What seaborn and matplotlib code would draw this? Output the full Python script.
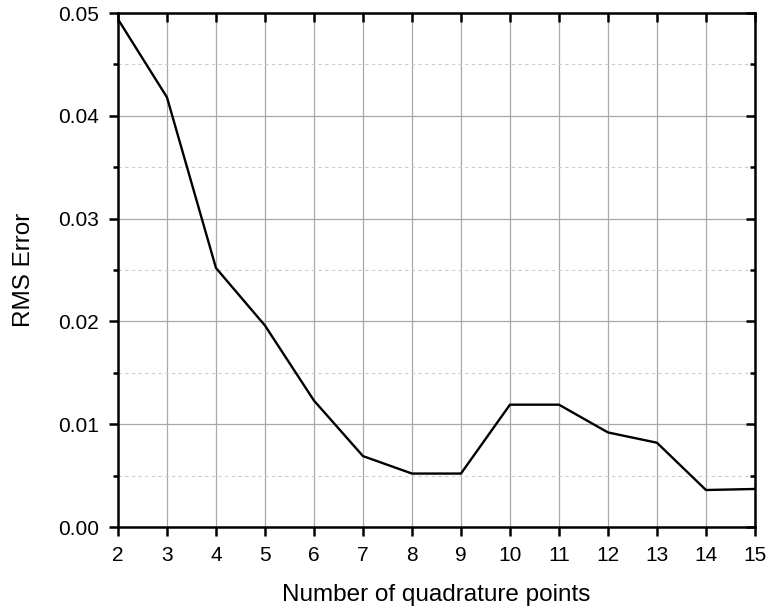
import matplotlib
matplotlib.use("Agg")
import matplotlib.pyplot as plt
import seaborn as sns
import pandas as pd
from matplotlib.ticker import MultipleLocator

points = [2, 3, 4, 5, 6, 7, 8, 9, 10, 11, 12, 13, 14, 15]
rms_error = [0.0494, 0.0418, 0.0252, 0.0196, 0.0123, 0.0069, 0.0052, 0.0052,
             0.0119, 0.0119, 0.0092, 0.0082, 0.0036, 0.0037]
y_ticks = [0.00, 0.01, 0.02, 0.03, 0.04, 0.05]
y_tick_labels = ["0.00", "0.01", "0.02", "0.03", "0.04", "0.05"]

df = pd.DataFrame({"points": points, "rms": rms_error})

sns.set_style("ticks")
plt.rcParams['font.family'] = ['Liberation Sans', 'DejaVu Sans']

fig = plt.figure(figsize=(7.68, 6.08), dpi=100)
rect = [0.1536, 0.1332, 0.8294, 0.8454]

# helper axes for inward mirrored ticks on top and right
axm = fig.add_axes(rect, zorder=5)
axm.patch.set_visible(False)
axm.set_xlim(2, 15)
axm.set_ylim(0, 0.05)
axm.set_xticks(points)
axm.set_yticks(y_ticks)
axm.yaxis.set_minor_locator(MultipleLocator(0.005))
axm.xaxis.tick_top()
axm.yaxis.tick_right()
axm.tick_params(which="major", direction="in", length=6.5, width=1.8, color="black",
                labeltop=False, labelright=False, labelbottom=False, labelleft=False)
axm.tick_params(axis="y", which="minor", direction="in", length=3.5, width=1.8, color="black")
for s in axm.spines.values():
    s.set_visible(False)

ax = fig.add_axes(rect, zorder=1)
sns.lineplot(data=df, x="points", y="rms", ax=ax, color="black", linewidth=1.7, zorder=3)

ax.set_xlim(2, 15)
ax.set_ylim(0, 0.05)
ax.set_xticks(points)
ax.set_yticks(y_ticks)
ax.set_yticklabels(y_tick_labels)
ax.yaxis.set_minor_locator(MultipleLocator(0.005))

ax.grid(which="major", color="#a8a8a8", linewidth=0.9, linestyle="-")
ax.grid(which="minor", axis="y", color="#cccccc", linewidth=0.8, linestyle=(0, (3, 3)))
ax.set_axisbelow(True)

for s in ax.spines.values():
    s.set_visible(True)
    s.set_color("black")
    s.set_linewidth(1.8)

ax.tick_params(axis="both", which="major", direction="out", length=6.5, width=1.8,
               labelsize=15, colors="black", pad=7, top=False, right=False)
ax.tick_params(axis="y", which="minor", direction="out", length=3.5, width=1.8,
               left=True, right=False, color="black")

ax.set_xlabel("Number of quadrature points", fontsize=17.5, labelpad=14, color="black")
ax.set_ylabel("RMS Error", fontsize=17.5, labelpad=17, color="black")

fig.savefig("out.png", dpi=100)
